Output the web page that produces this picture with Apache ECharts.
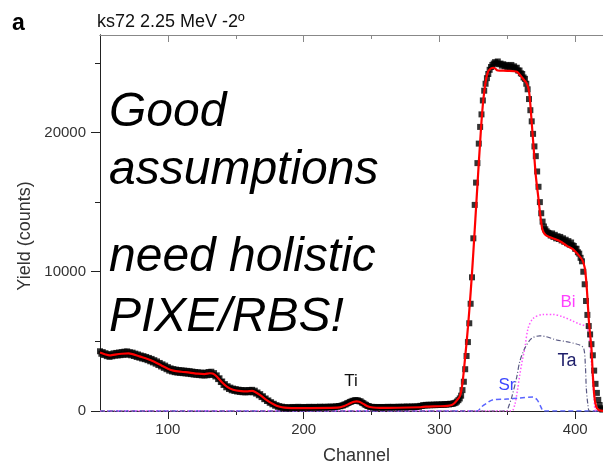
<!DOCTYPE html>
<html>
<head>
<meta charset="utf-8">
<script src="https://cdn.jsdelivr.net/npm/echarts@6/dist/echarts.min.js"></script>
<style>
  html, body { margin: 0; padding: 0; background: #fff; }
  #chart { width: 603px; height: 470px; }
</style>
</head>
<body>
<div id="chart"></div>
<script>
// RBS spectrum ks72, 2.25 MeV, -2 deg: measured yield per channel (from channel 50)
const channelStart = 50;
const counts = [
  4290, 4110, 4230, 4020, 4150, 3940, 4080, 3890, 4060, 3930,
  4140, 3980, 4170, 3990, 4200, 4010, 4230, 4040, 4260, 4050,
  4280, 4060, 4220, 4000, 4190, 3950, 4120, 3880, 4060, 3830,
  3990, 3770, 3940, 3720, 3880, 3650, 3810, 3570, 3740, 3490,
  3650, 3400, 3560, 3300, 3450, 3200, 3350, 3100, 3260, 3000,
  3150, 2900, 3060, 2840, 3010, 2790, 2970, 2760, 2940, 2740,
  2920, 2720, 2900, 2700, 2880, 2680, 2860, 2650, 2830, 2620,
  2800, 2600, 2780, 2580, 2760, 2560, 2740, 2550, 2750, 2570,
  2800, 2600, 2820, 2600, 2720, 2480, 2560, 2290, 2350, 2080,
  2120, 1870, 1930, 1700, 1780, 1580, 1680, 1490, 1610, 1440,
  1570, 1400, 1530, 1370, 1510, 1350, 1490, 1340, 1490, 1350,
  1510, 1360, 1520, 1340, 1460, 1250, 1330, 1130, 1210, 1000,
  1060, 850, 900, 720, 760, 590, 630, 480, 520, 380,
  420, 300, 350, 250, 310, 210, 280, 190, 270, 180,
  260, 230, 290, 220, 280, 210, 300, 230, 270, 220,
  290, 240, 280, 220, 300, 240, 280, 230, 300, 250,
  280, 230, 310, 250, 290, 240, 310, 260, 300, 250,
  320, 270, 310, 280, 340, 300, 360, 340, 390, 400,
  460, 480, 550, 580, 650, 670, 730, 730, 780, 760,
  760, 700, 690, 600, 560, 470, 440, 360, 350, 290,
  300, 250, 290, 240, 290, 240, 280, 250, 290, 240,
  280, 250, 300, 250, 290, 260, 300, 250, 290, 260,
  310, 260, 300, 270, 310, 260, 320, 270, 310, 280,
  330, 280, 320, 290, 340, 300, 370, 360, 420, 390,
  440, 400, 450, 410, 450, 420, 460, 420, 470, 430,
  470, 440, 480, 440, 490, 460, 500, 470, 520, 500,
  530, 560, 600, 680, 780, 900, 1100, 1500, 2100, 3000,
  3950, 4950, 6300, 7700, 9600, 12400, 14800, 16400, 17800, 19200,
  20400, 21300, 22300, 23000, 23500, 23900, 24200, 24500, 24700, 24850,
  24950, 25050, 24950, 25100, 24900, 24950, 24800, 24900, 24750, 24850,
  24700, 24800, 24700, 24850, 24650, 24750, 24600, 24650, 24450, 24450,
  24250, 24200, 23950, 23850, 23500, 23100, 22400, 21600, 20800, 19900,
  19000, 18300, 17200, 16100, 15000, 14200, 13600, 13250, 13050, 12900,
  12800, 12750, 12600, 12750, 12500, 12650, 12400, 12550, 12350, 12500,
  12250, 12400, 12150, 12300, 12050, 12200, 11950, 12100, 11900, 11850,
  11650, 11650, 11400, 11300, 11000, 10750, 10000, 9100, 7900, 6900,
  6100, 5500, 4800, 4000, 2900, 1950, 1300, 800, 430, 200,
  100
];

// simulated total spectrum [channel, yield]
const fitCurve = [
  [50,4200],[54,4060],[57,3990],[61,4050],[66,4110],[71,4140],[74,4080],[79,3920],
  [85,3740],[90,3540],[95,3290],[100,3040],[104,2900],[110,2820],[116,2760],[122,2680],
  [127,2650],[131,2710],[133,2690],[136,2480],[140,2050],[144,1710],[148,1530],[154,1430],
  [158,1410],[162,1440],[164,1380],[168,1140],[172,840],[176,580],[180,380],[184,270],
  [188,225],[195,210],[225,240],[230,360],[234,540],[237,660],[239,690],[241,660],
  [244,510],[247,340],[251,250],[256,220],[286,270],[290,310],[300,340],[306,370],
  [309,430],[311,560],[313,780],[315,1050],[316,1400],[317,2000],[318,2900],[319,3900],
  [320,4900],[321,6000],[322,7200],[323,8500],[324,9900],[325,11400],[326,13000],[327,14600],
  [328,16200],[329,17800],[330,19300],[331,20800],[332,22000],[333,22900],[334,23600],[335,24100],
  [336,24400],[338,24600],[340,24650],[343,24450],[350,24430],[357,24360],[361,23930],[364,23570],
  [365.5,23200],[366.5,22570],[368,20700],[369.5,18790],[371,16900],[373,15210],[374.5,13900],[376,13000],
  [378,12650],[381,12500],[388.5,12210],[394,11860],[398,11640],[403,11140],[405.5,10800],[407,10300],
  [408,9500],[409,8200],[410,6600],[411,5500],[412,4500],[413,2600],[414,1200],[415,500],
  [416,200],[418,40],[425,0]
];

// elemental partial spectra [channel, yield]
const srCurve = [
  [50,0],[328,0],[331,300],[335,570],[339,790],[350,860],[359,930],[369,1000],
  [372,800],[375,250],[376.5,0],[430,0]
];
const biCurve = [
  [50,0],[353,0],[355.5,450],[357.5,1500],[359.2,2600],[361,3600],[362.9,4500],[365.3,5930],
  [369,6640],[376.3,6930],[383.7,6930],[391,6760],[398.4,6450],[403,6250],[408.2,6050],
  [410,5500],[412,3400],[414,900],[415.5,0],[430,0]
];
const taCurve = [
  [50,0],[350,0],[350.6,210],[353.1,930],[356.8,2360],[359.2,3550],[362.9,4500],[367.8,5210],
  [373.9,5400],[378.8,5330],[386.2,5100],[393.5,4980],[403.3,4740],[406.3,4500],[407.5,3310],
  [408.2,1640],[409.4,450],[410.7,0],[430,0]
];

const xMajorTicks = [100, 200, 300, 400];
const xMinorTicks = [150, 250, 350];
const yMajorTicks = [0, 10000, 20000];
const yMinorTicks = [5000, 15000, 25000];

const X_MIN = 50, X_MAX = 420.5, Y_MIN = 0, Y_MAX = 27000;
const FONT = '"Liberation Sans", Arial, sans-serif';

const measured = counts.map((v, i) => [channelStart + i, v]);

function xAxisDef(position, ticks, tickLen, inside, withLabels, lineColor) {
  const ax = {
    type: 'value', position: position, min: X_MIN, max: X_MAX,
    axisLine: { show: true, onZero: false, lineStyle: { color: lineColor, width: 1 } },
    axisTick: { show: true, inside: inside, length: tickLen, customValues: ticks,
                lineStyle: { color: lineColor, width: 1 } },
    axisLabel: { show: false },
    splitLine: { show: false }
  };
  if (withLabels) {
    ax.axisLabel = { show: true, customValues: ticks, margin: 11, fontSize: 15,
                     color: '#333', fontFamily: FONT, formatter: v => String(v) };
    ax.name = 'Channel';
    ax.nameLocation = 'middle';
    ax.nameGap = 36;
    ax.nameTextStyle = { fontSize: 18, color: '#333', fontFamily: FONT, padding: [0, 0, 0, 10] };
  }
  return ax;
}

function yAxisDef(ticks, tickLen, withLabels) {
  return {
    type: 'value', position: 'left', min: Y_MIN, max: Y_MAX,
    axisLine: { show: true, onZero: false, lineStyle: { color: '#222', width: 1 } },
    axisTick: { show: true, inside: false, length: tickLen, customValues: ticks,
                lineStyle: { color: '#222', width: 1 } },
    axisLabel: withLabels
      ? { show: true, customValues: ticks, margin: 14, fontSize: 15, color: '#333',
          fontFamily: FONT, formatter: v => String(v) }
      : { show: false },
    splitLine: { show: false }
  };
}

function label(text, x, y, font, color) {
  return { type: 'text', x: x, y: y, z: 100, zlevel: 1,
    style: { text: text, font: font, fill: color, textAlign: 'center', textVerticalAlign: 'middle' } };
}

const chart = echarts.init(document.getElementById('chart'), null, { renderer: 'canvas' });

const bigText = 'italic 48px ' + FONT;

chart.setOption({
  animation: false,
  backgroundColor: '#ffffff',
  grid: { left: 100, right: 0, top: 35, bottom: 57, containLabel: false },
  xAxis: [
    xAxisDef('bottom', xMajorTicks, 8, false, true, '#222'),
    xAxisDef('bottom', xMinorTicks, 4, false, false, '#222'),
    xAxisDef('top', xMajorTicks, 7, true, false, '#888'),
    xAxisDef('top', xMinorTicks, 4, true, false, '#888')
  ],
  yAxis: [
    yAxisDef(yMajorTicks, 9, true),
    yAxisDef(yMinorTicks, 5, false)
  ],
  series: [
    {
      name: 'Sr', type: 'line', data: srCurve, showSymbol: false, symbol: 'none',
      smooth: 0.3, z: 3,
      lineStyle: { color: '#5a64ff', width: 1.5, type: [5, 3] }
    },
    {
      name: 'Bi', type: 'line', data: biCurve, showSymbol: false, symbol: 'none',
      smooth: 0.3, z: 3,
      lineStyle: { color: '#ff55ff', width: 1.5, type: [1.5, 2] }
    },
    {
      name: 'Ta', type: 'line', data: taCurve, showSymbol: false, symbol: 'none',
      smooth: 0.3, z: 3,
      lineStyle: { color: '#5a5a84', width: 1.2, type: [5, 2, 1, 2] }
    },
    {
      name: 'measured', type: 'scatter', data: measured,
      symbol: 'rect', symbolSize: 6, z: 4,
      itemStyle: { color: '#000000' }
    },
    {
      name: 'fit', type: 'line', data: fitCurve, showSymbol: false, symbol: 'none',
      smooth: 0.25, z: 5,
      lineStyle: { color: '#ff0000', width: 2.2 }
    }
  ],
  graphic: [
    { type: 'text', x: 12, y: 24, z: 100, style: { text: 'a', font: 'bold 23px ' + FONT, fill: '#000',
      textAlign: 'left', textVerticalAlign: 'middle' } },
    { type: 'text', x: 97, y: 22, z: 100, style: { text: 'ks72 2.25 MeV -2º', font: '18px ' + FONT, fill: '#111',
      textAlign: 'left', textVerticalAlign: 'middle' } },
    { type: 'text', x: 25, y: 236, z: 100, rotation: Math.PI / 2,
      style: { text: 'Yield (counts)', font: '18px ' + FONT, fill: '#333',
      textAlign: 'center', textVerticalAlign: 'middle' } },
    { type: 'text', x: 109, y: 113, z: 100, style: { text: 'Good', font: bigText, fill: '#000',
      textAlign: 'left', textVerticalAlign: 'middle' } },
    { type: 'text', x: 109, y: 171, z: 100, style: { text: 'assumptions', font: bigText, fill: '#000',
      textAlign: 'left', textVerticalAlign: 'middle' } },
    { type: 'text', x: 109, y: 258, z: 100, style: { text: 'need holistic', font: bigText, fill: '#000',
      textAlign: 'left', textVerticalAlign: 'middle' } },
    { type: 'text', x: 109, y: 318, z: 100, style: { text: 'PIXE/RBS!', font: bigText, fill: '#000',
      textAlign: 'left', textVerticalAlign: 'middle' } },
    label('Ti', 351, 381, '17px ' + FONT, '#111'),
    label('Bi', 568, 302, '17px ' + FONT, '#ff40ff'),
    label('Ta', 567, 361, '18px ' + FONT, '#1e1e6a'),
    label('Sr', 507, 385, '17px ' + FONT, '#3a46ff')
  ]
});
</script>
</body>
</html>
